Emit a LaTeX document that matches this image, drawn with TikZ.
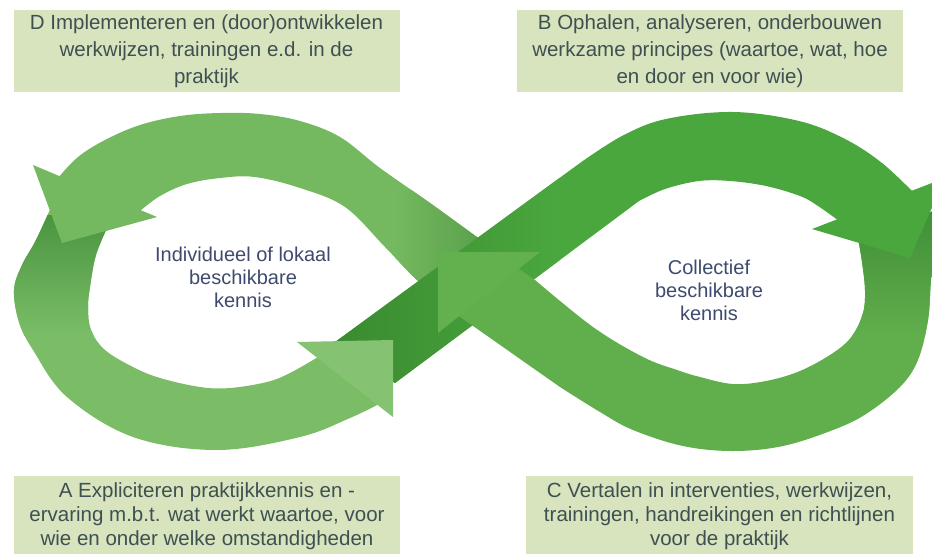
\documentclass[tikz,border=0pt]{standalone}
\usepackage{fontspec}
\setmainfont{Liberation Sans}
\definecolor{boxfill}{HTML}{D8E4BD}
\definecolor{boxtext}{HTML}{3E5052}
\definecolor{holetxt}{HTML}{3F4B6E}
\definecolor{ulc}{HTML}{74B95F}
\definecolor{llc}{HTML}{7BBD67}
\definecolor{llah}{HTML}{85C271}
\definecolor{urc}{HTML}{4AA73E}
\definecolor{dkc}{HTML}{3A8A30}
\definecolor{p2c}{HTML}{60AE4C}
\definecolor{cah}{HTML}{62B04E}
\definecolor{shd}{HTML}{4A9440}
\definecolor{shdu}{HTML}{579C49}
\definecolor{shdr}{HTML}{3E8C35}
\begin{document}
\begin{tikzpicture}[x=1pt,y=-1pt,
  boxnode/.style={fill=boxfill, minimum width=386pt, align=center, text=boxtext, inner sep=0pt, font=\fontsize{20.5}{27}\selectfont},
  boxnodeb/.style={fill=boxfill, minimum width=386pt, align=center, text=boxtext, inner sep=0pt, font=\fontsize{20.5}{24}\selectfont},
  holetext/.style={align=center, text=holetxt, font=\fontsize{20}{23}\selectfont}]
\useasboundingbox (0,0) rectangle (932,554);
\fill[white] (0,0) rectangle (932,554);
\clip (0,0) rectangle (932,554);

\def\ulpath{plot[smooth,tension=0.6] coordinates {(492,247) (477,237) (430,203) (380,168) (340,137) (300,121) (260,114) (220,113) (180,116) (140,125) (105,140) (78,157) (58,178)} -- (140,211) -- plot[smooth,tension=0.6] coordinates {(140,211) (160,196) (187,184) (220,178) (255,177) (300,188) (345,207) (385,247) (417,280) (442,298)} -- cycle}
\def\llpath{plot[smooth,tension=0.6] coordinates {(52,205) (36,240) (22,265) (14,290) (19,322) (33,350) (67,397) (133,437) (217,450) (300,437) (350,418) (381,403)} -- (318,357) -- plot[smooth,tension=0.6] coordinates {(318,357) (290,373) (267,382) (230,388) (200,387) (160,378) (133,367) (105,350) (91,330) (88,308) (90,287) (96,255) (108,226)} -- cycle}
\def\durpath{(331,345) -- (580,163) -- plot[smooth,tension=0.6] coordinates {(580,163) (622,136) (666,119) (733,112) (799,121) (845,139) (882,163) (915,194)} -- (839,221) -- plot[smooth,tension=0.6] coordinates {(839,221) (818,206) (800,196) (766,186) (730,181) (699,181) (665,189) (639,201)} -- (395,383) -- (380,375) -- cycle}
\def\ptwopath{(518,268) -- plot[smooth,tension=0.6] coordinates {(535,280) (593,327) (643,357) (677,370) (700,377) (733,384) (766,381) (800,371) (833,353) (852,336) (863,313) (865,290) (862,262) (858,238)} -- (950,205) -- plot[smooth,tension=0.6] coordinates {(950,205) (936,240) (931,280) (928,320) (918,360) (900,387) (866,414) (833,430) (783,446) (733,451) (683,446) (633,430) (600,412) (560,387)} -- (456,314) -- cycle}

% left loop, lower band
\fill[llc] \llpath;
\begin{scope}
  \clip \llpath;
  \shade[top color=shd, bottom color=llc] (0,215) rectangle (140,335);
\end{scope}
% left loop, upper band
\fill[ulc] \ulpath;
\begin{scope}
  \clip \ulpath;
  \shade[left color=ulc, right color=shdu] (395,190) rectangle (495,300);
\end{scope}
% left arrowhead
\fill[ulc] (33,165) -- (157,217) -- (62,243) -- cycle;
% diagonal from lower left to upper right
\fill[urc] \durpath;
\begin{scope}
  \clip \durpath;
  \shade[left color=dkc, middle color=dkc, right color=urc] (330,150) rectangle (560,400);
\end{scope}
% right loop, lower band
\fill[p2c] \ptwopath;
\begin{scope}
  \clip \ptwopath;
  \shade[top color=shdr, bottom color=p2c] (840,200) rectangle (960,335);
\end{scope}
% right arrowhead
\fill[urc] (812,229) -- (945,178) -- (910,258) -- cycle;
% centre arrowhead
\fill[cah] (438,252) -- (540,252) -- (438,333) -- cycle;
% lower left arrowhead
\fill[llah] (297,342) -- (393,340) -- (393,417) -- cycle;

% texts
\node[holetext] (kl) at (243,277) {Individueel of lokaal\\beschikbare\\kennis};
\node[holetext] (kc) at (709,290) {Collectief\\beschikbare\\kennis};

\node[boxnode, minimum height=82pt] (boxD) at (206.5,51) {D Implementeren en (door)ontwikkelen\\werkwijzen, trainingen e.d. in de\\praktijk};
\node[boxnode, minimum height=82pt] (boxB) at (710,51) {B Ophalen, analyseren, onderbouwen\\werkzame principes (waartoe, wat, hoe\\en door en voor wie)};
\fill[boxfill] (14,476) rectangle (400,554);
\fill[boxfill] (526,476) rectangle (913,554);
\node[boxnodeb, fill=none] (boxA) at (207,516.5) {A Expliciteren praktijkkennis en -\\ervaring m.b.t. wat werkt waartoe, voor\\wie en onder welke omstandigheden};
\node[boxnodeb, fill=none] (boxC) at (719.5,516.5) {C Vertalen in interventies, werkwijzen,\\trainingen, handreikingen en richtlijnen\\voor de praktijk};
\end{tikzpicture}
\end{document}
